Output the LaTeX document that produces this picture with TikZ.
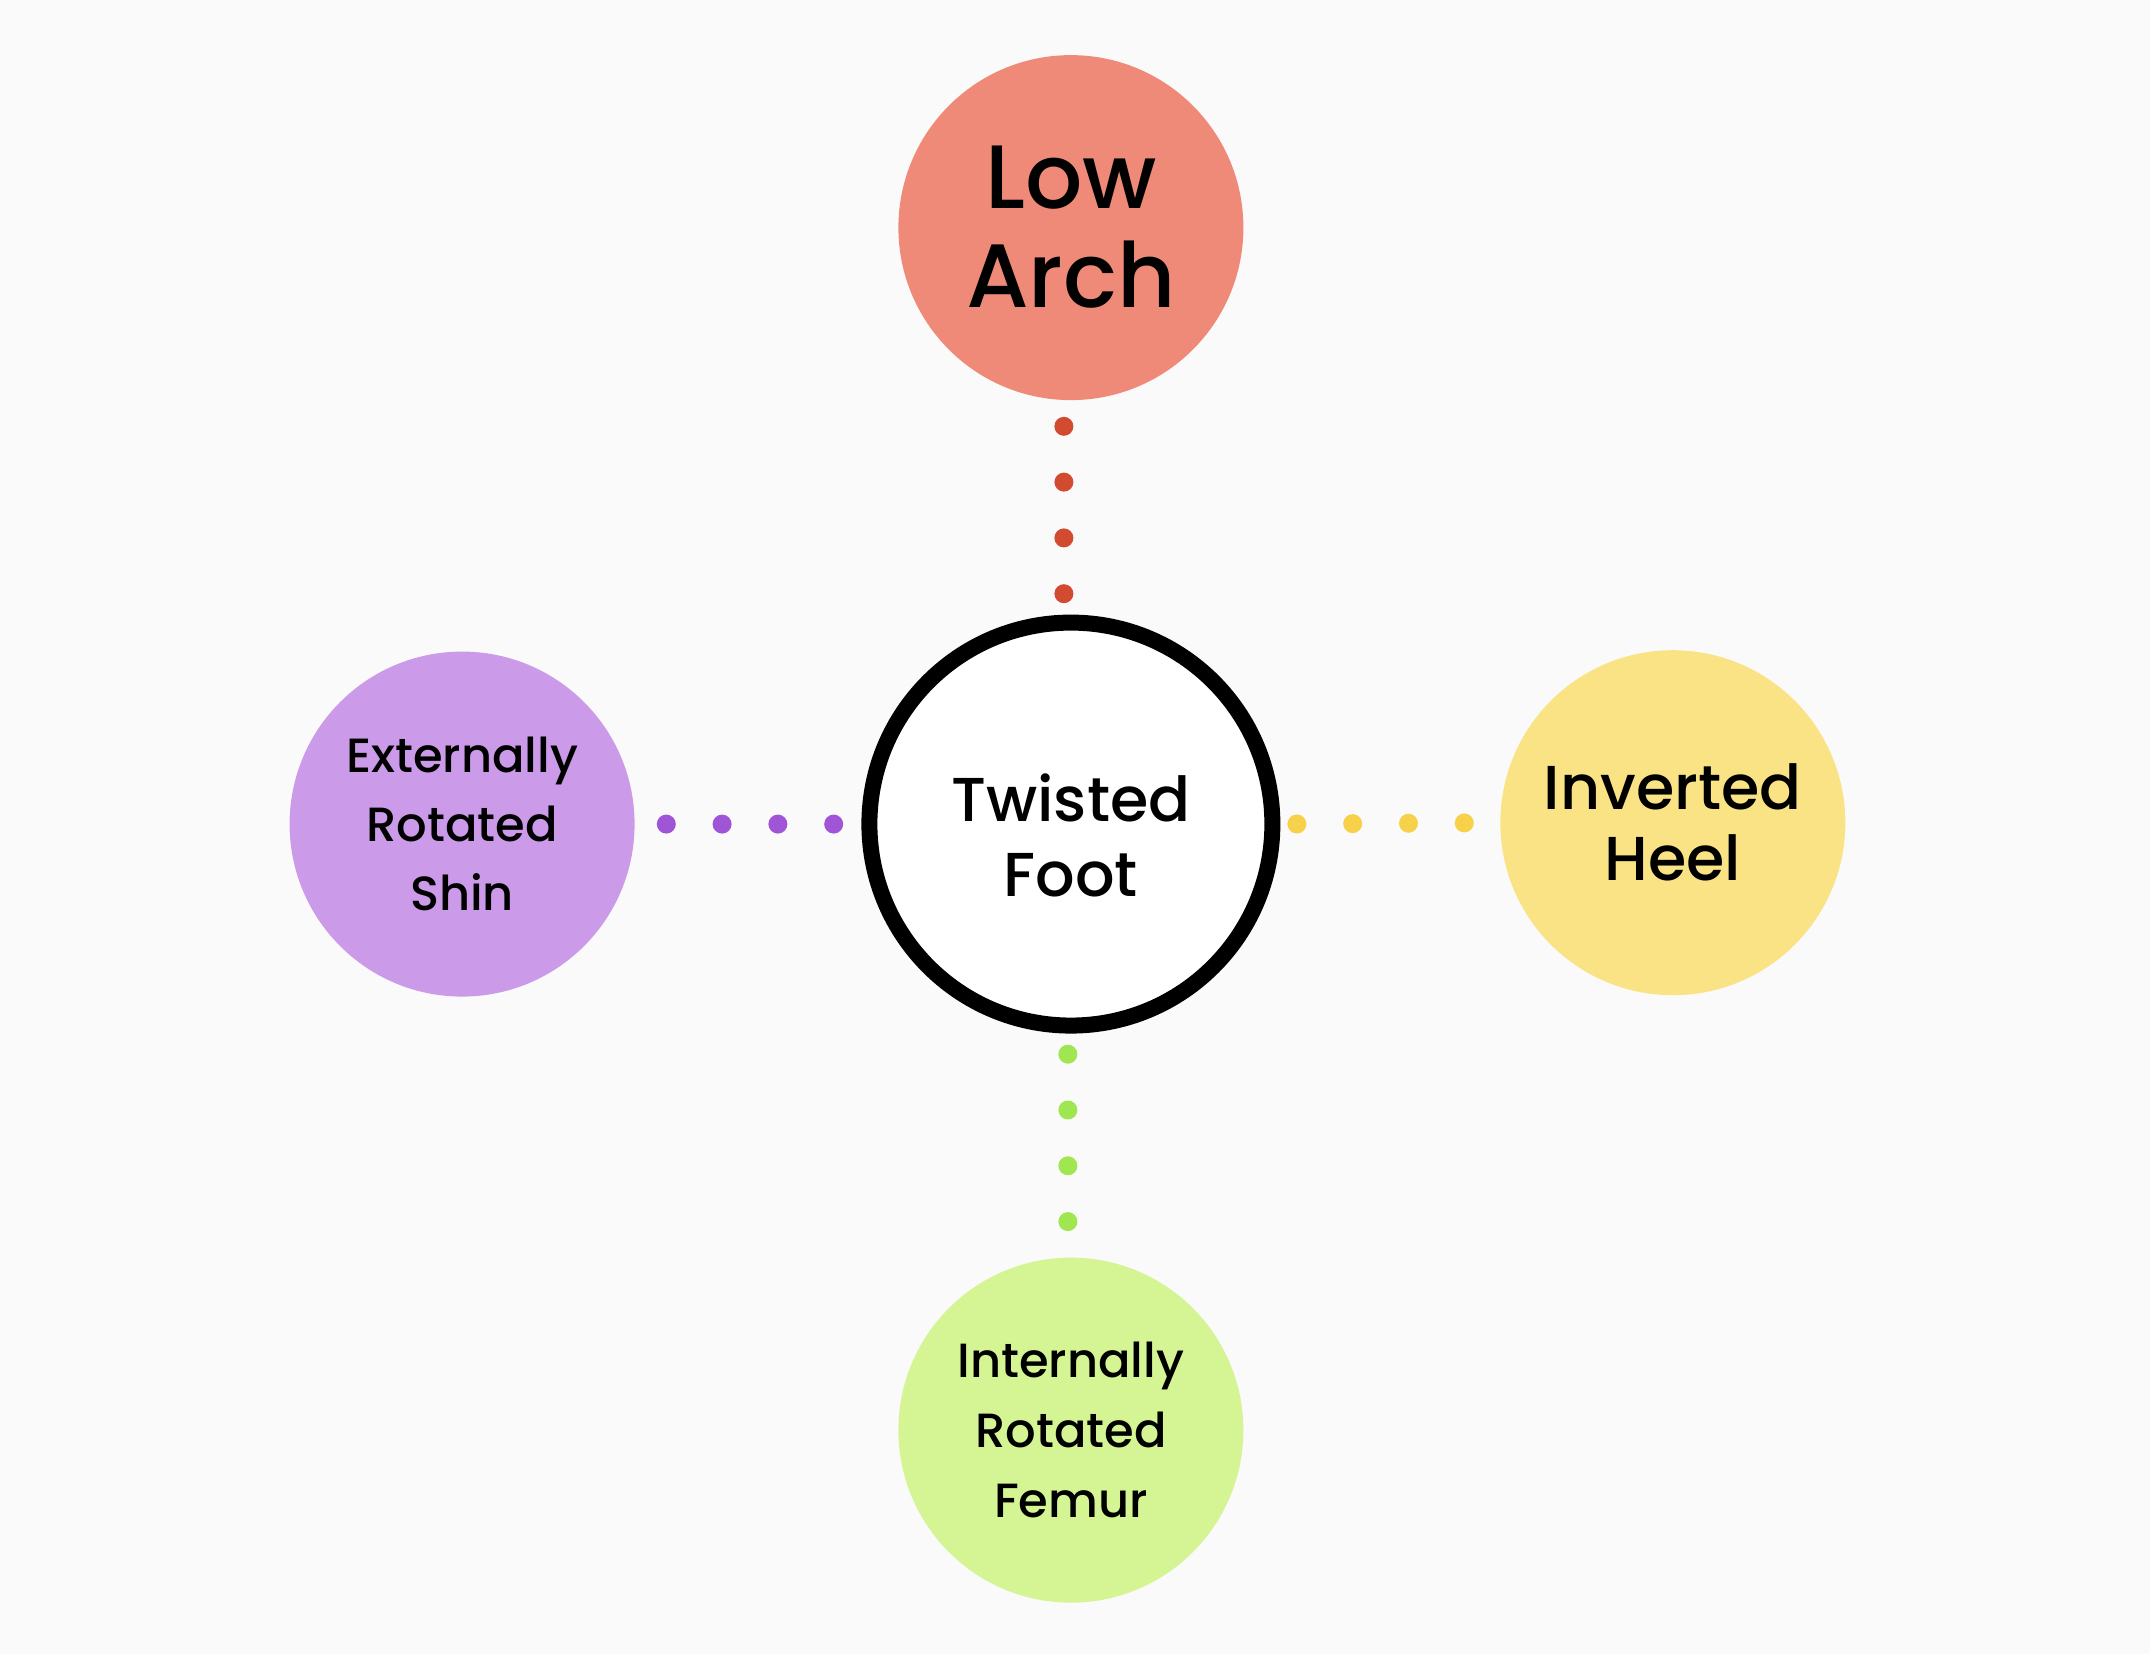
\documentclass[tikz,border=0pt]{standalone}
\usepackage{fontspec}
\setmainfont{Poppins Medium}
\definecolor{bgc}{HTML}{FAFAFA}
\definecolor{salmon}{HTML}{F08A78}
\definecolor{reddot}{HTML}{D24A30}
\definecolor{yelc}{HTML}{FAE385}
\definecolor{yeldot}{HTML}{F7D14A}
\definecolor{purc}{HTML}{CB9AE8}
\definecolor{purdot}{HTML}{A055D6}
\definecolor{grnc}{HTML}{D5F494}
\definecolor{grndot}{HTML}{A0E650}
\tikzset{
  bubble/.style={circle, inner sep=0pt, minimum size=345pt, align=center, text=black},
  hub/.style={circle, draw=black, line width=16pt, fill=white, inner sep=0pt, minimum size=403pt},
  hubtext/.style={align=center, text=black, font=\fontsize{62pt}{75pt}\selectfont},
  dotline/.style={line width=19pt, line cap=round, dash pattern=on 0pt off 55.8pt}
}
\begin{document}
\begin{tikzpicture}[x=1.3712pt,y=-1.3712pt]
\fill[bgc] (0,0) rectangle (1568,1206);
\useasboundingbox (0,0) rectangle (1568,1206);
\node[hub] (ctr) at (781,601) {};
\node[hubtext] (ctrtext) at ([yshift=-11pt]ctr.center) {Twisted\\Foot};
\node[bubble, fill=salmon, font=\fontsize{90pt}{99pt}\selectfont] (top) at (781,166) {Low\\Arch};
\node[bubble, fill=purc, font=\fontsize{48pt}{69pt}\selectfont] (left) at (337,601) {Externally\\Rotated\\Shin};
\node[bubble, fill=yelc, font=\fontsize{62pt}{71pt}\selectfont] (right) at (1220,600) {Inverted\\Heel};
\node[bubble, fill=grnc, font=\fontsize{48pt}{70pt}\selectfont] (bot) at (781,1043) {Internally\\Rotated\\Femur};
\draw[dotline, reddot, shorten <=26pt, shorten >=18pt] ([xshift=-7pt]top.south) -- ([xshift=-7pt]ctr.north);
\draw[dotline, purdot, shorten <=31.5pt, shorten >=25pt] (left.east) -- (ctr.west);
\draw[dotline, yeldot, shorten <=16.5pt, shorten >=34.6pt] (ctr.east) -- (right.west);
\draw[dotline, grndot, shorten <=20.6pt, shorten >=34.6pt] ([xshift=-3pt]ctr.south) -- ([xshift=-3pt]bot.north);
\end{tikzpicture}
\end{document}
